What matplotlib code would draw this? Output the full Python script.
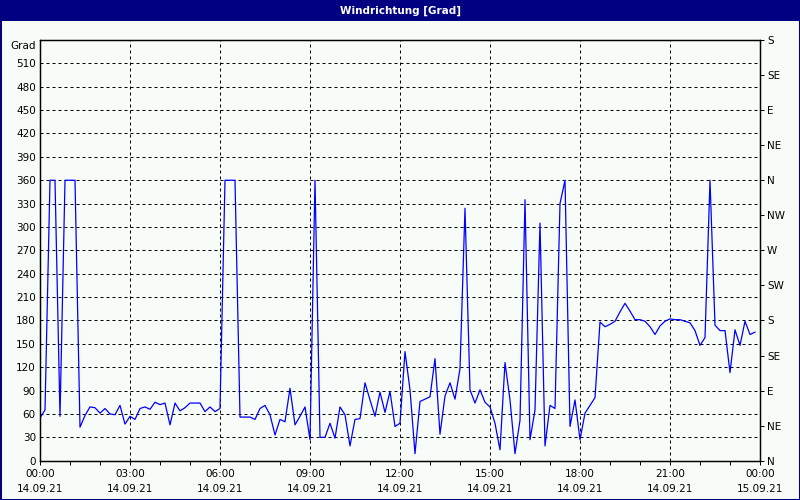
import matplotlib
matplotlib.use("Agg")
import matplotlib.pyplot as plt
import matplotlib.transforms as mtransforms
import numpy as np
import pandas as pd
from matplotlib.patches import Rectangle

# wind direction, 10 minute values, 14.09.21 00:00 .. 23:50
grad = [
    55, 65, 360, 360, 57, 360, 360, 360, 43, 58,
    69, 68, 61, 67, 60, 59, 71, 47, 57, 53,
    67, 69, 66, 75, 72, 74, 46, 74, 64, 68,
    74, 74, 74, 63, 69, 63, 67, 360, 360, 360,
    56, 56, 56, 53, 67, 71, 59, 33, 53, 50,
    93, 46, 57, 69, 27, 360, 30, 30, 48, 29,
    69, 59, 19, 53, 54, 100, 78, 57, 88, 62,
    89, 44, 48, 140, 91, 9, 76, 79, 82, 131,
    34, 83, 100, 79, 118, 324, 91, 74, 91, 75,
    69, 48, 14, 126, 78, 9, 52, 335, 27, 65,
    305, 19, 71, 67, 330, 360, 44, 78, 27, 61,
    71, 81, 178, 172, 175, 179, 191, 202, 192, 181,
    181, 179, 172, 162, 173, 179, 182, 181, 181, 179,
    177, 167, 148, 158, 360, 174, 167, 167, 113, 168,
    148, 179, 162, 165,
]
times = pd.date_range("2021-09-14 00:00", periods=len(grad), freq="10min")

left_ticks = list(range(0, 511, 30))
left_labels = [str(v) for v in left_ticks]
right_ticks = list(range(0, 541, 45))
right_labels = ["N", "NE", "E", "SE", "S", "SW", "W", "NW", "N", "NE", "E", "SE", "S"]
x_ticks = pd.date_range("2021-09-14 00:00", "2021-09-15 00:00", freq="3h")
x_minor = pd.date_range("2021-09-14 00:00", "2021-09-15 00:00", freq="1h")
x_labels = [t.strftime("%H:%M\n%d.%m.%y") for t in x_ticks]

bg = "#f8fcf8"
navy = "#000080"
fs = 7.5

fig = plt.figure(figsize=(8, 5), dpi=100, facecolor=bg)
fig.patches.append(Rectangle((0, 1 - 21 / 500), 1, 21 / 500, transform=fig.transFigure,
                             facecolor=navy, edgecolor="none", zorder=0))
fig.patches.append(Rectangle((0, 0), 1, 1, transform=fig.transFigure, fill=False,
                             edgecolor=navy, lw=2.2, zorder=5))
fig.text(0.5, 1 - 10.5 / 500, "Windrichtung [Grad]", color="white", weight="bold",
         ha="center", va="center", fontsize=fs)

ax = fig.add_axes([40 / 800, 1 - 460.7 / 500, 720 / 800, 420.7 / 500])
ax.set_facecolor(bg)
ax.plot(times, grad, color="#0000ff", lw=0.9, zorder=3)

ax.set_ylim(0, 540)
ax.set_yticks(left_ticks)
ax.set_yticklabels(left_labels, fontsize=fs)
ax.tick_params(axis="y", length=0, pad=3)
# unit label sits just under the top of the axis
off = mtransforms.ScaledTranslation(-3 / 72, -1 / 72, fig.dpi_scale_trans)
ax.text(0, 540, "Grad", fontsize=fs, ha="right", va="top",
        transform=ax.get_yaxis_transform() + off)

ax.set_xlim(x_ticks[0], x_ticks[-1])
ax.set_xticks(x_ticks)
ax.set_xticks(x_minor, minor=True)
ax.set_xticklabels(x_labels, fontsize=fs)
for t in ax.get_xticklabels():
    t.set_linespacing(1.6)
ax.tick_params(axis="x", which="both", length=3, width=0.72, pad=3)

ax.grid(True, which="major", color="black", lw=0.72, linestyle=(0, (3, 3)))
ax.set_axisbelow(True)
for s in ax.spines.values():
    s.set_linewidth(0.9)

ax2 = ax.twinx()
ax2.set_ylim(0, 540)
ax2.set_yticks(right_ticks)
ax2.set_yticklabels(right_labels, fontsize=fs)
ax2.tick_params(axis="y", length=3, width=0.72, pad=2)
for s in ax2.spines.values():
    s.set_linewidth(0.9)

fig.savefig("out.png", dpi=100, facecolor=bg)
